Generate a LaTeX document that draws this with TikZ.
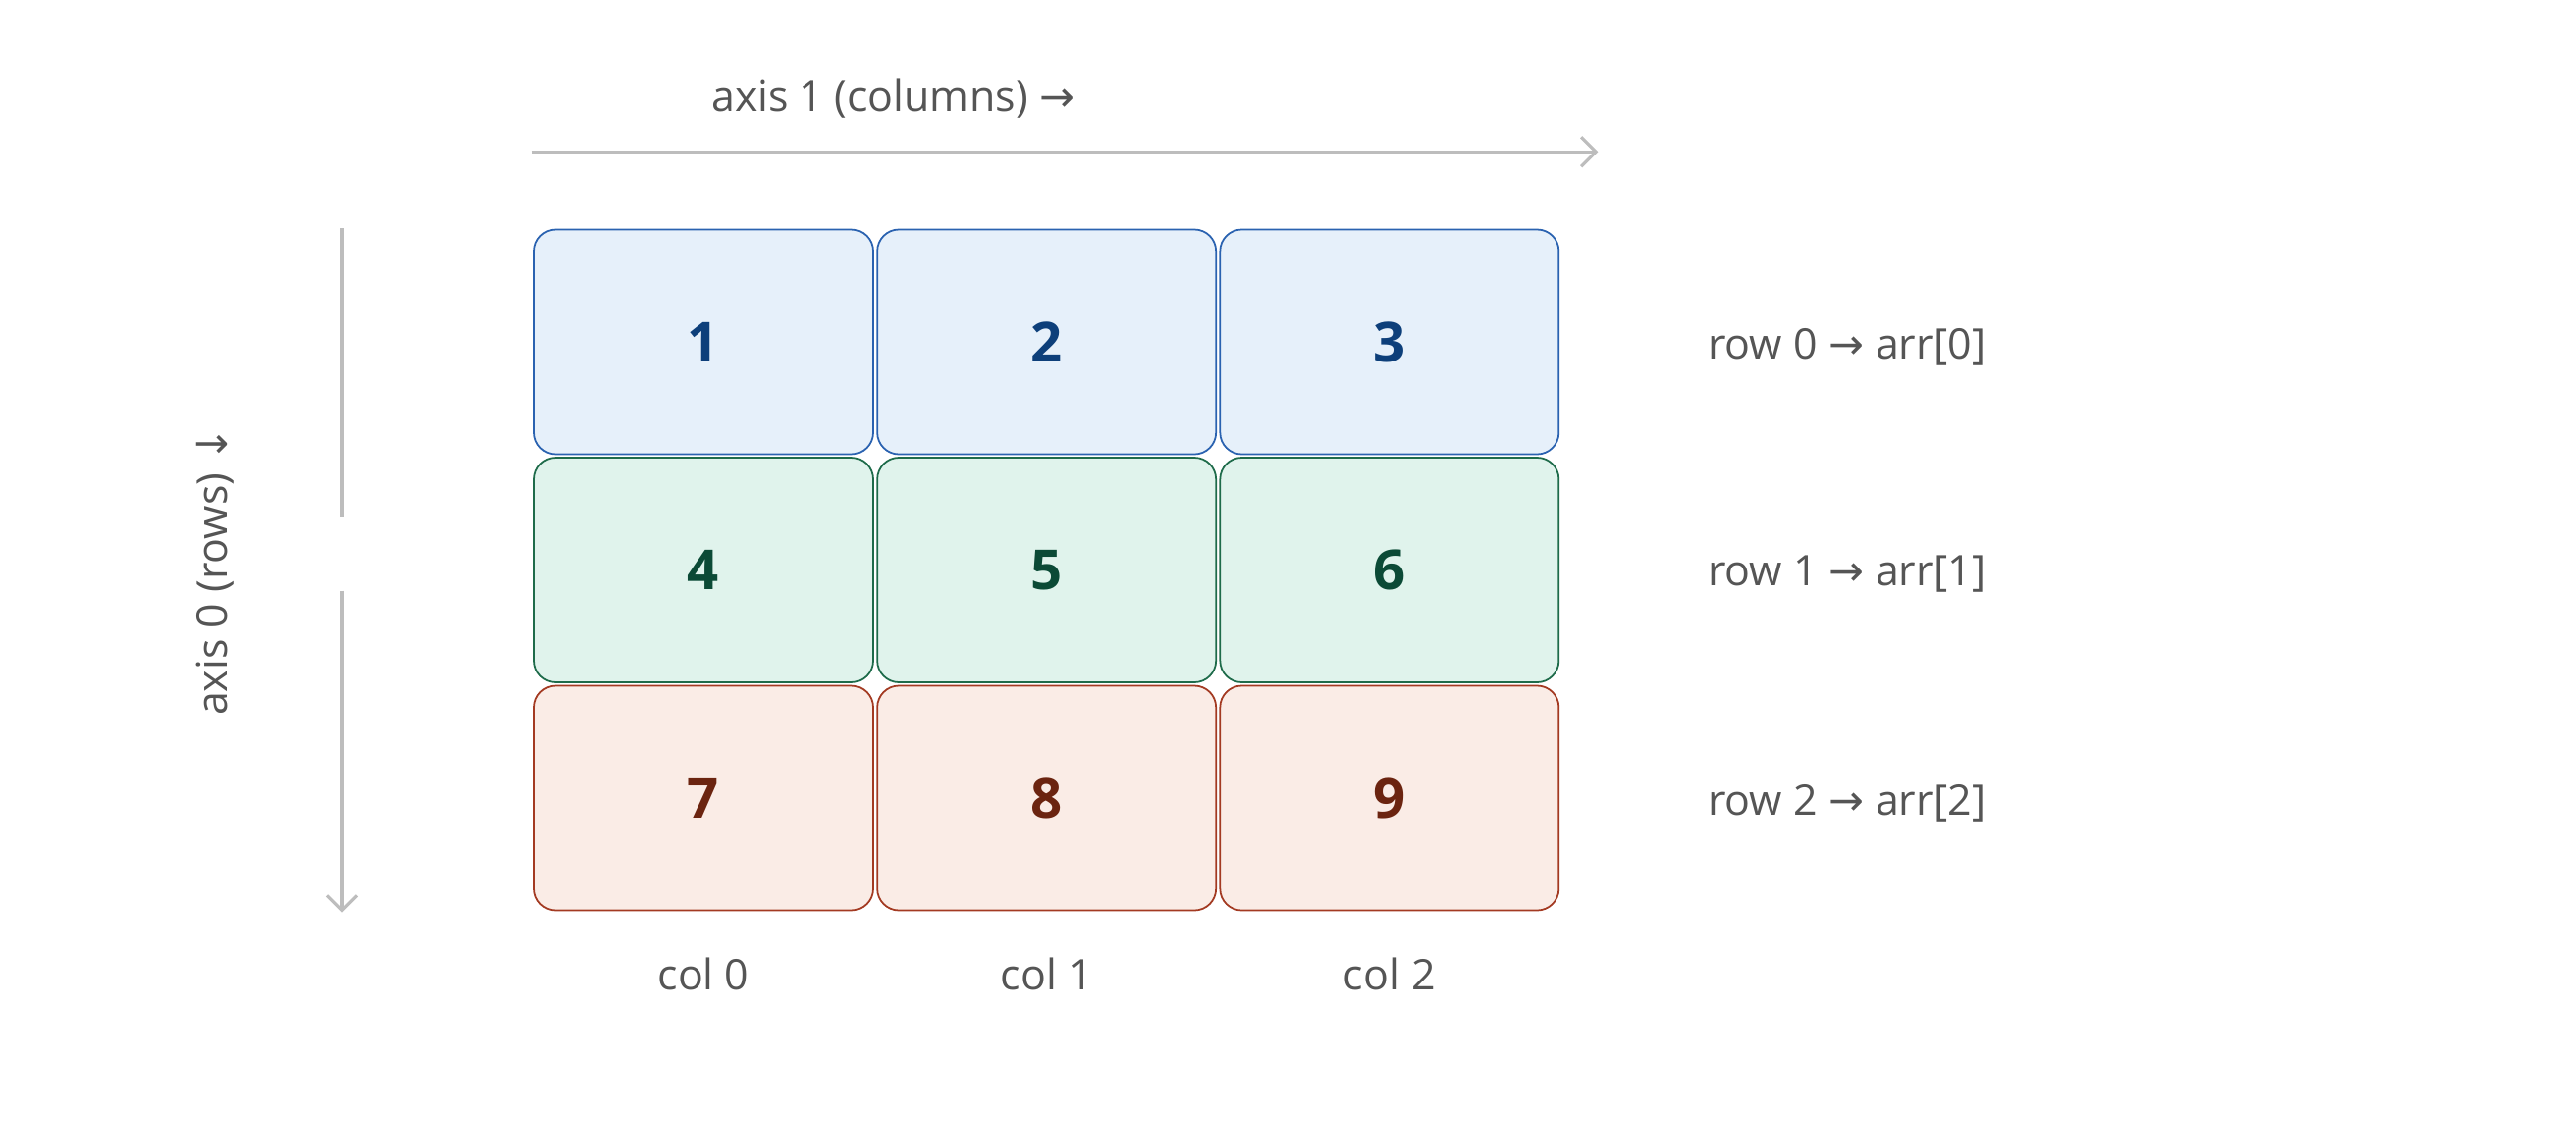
\documentclass[tikz,border=0pt]{standalone}
\usepackage{fontspec}
\setmainfont{Open Sans}
\newfontfamily\arrfont{DejaVu Sans}
\usetikzlibrary{arrows.meta, positioning}

\definecolor{bluefill}{HTML}{E6F0FA}
\definecolor{bluedraw}{HTML}{2A62B0}
\definecolor{bluetext}{HTML}{0D3F7A}
\definecolor{greenfill}{HTML}{E0F3EC}
\definecolor{greendraw}{HTML}{1E6B4A}
\definecolor{greentext}{HTML}{0B4A36}
\definecolor{redfill}{HTML}{FAECE6}
\definecolor{reddraw}{HTML}{A33A22}
\definecolor{redtext}{HTML}{6B2410}
\definecolor{labeltext}{HTML}{555555}
\definecolor{axisgray}{HTML}{BDBDBD}

\tikzset{
  cell/.style={draw, rounded corners=2.2mm, line width=0.5pt, minimum width=3.42cm, minimum height=2.27cm, font=\fontsize{16}{18}\selectfont\bfseries},
  row0/.style={cell, fill=bluefill, draw=bluedraw, text=bluetext},
  row1/.style={cell, fill=greenfill, draw=greendraw, text=greentext},
  row2/.style={cell, fill=redfill, draw=reddraw, text=redtext},
  lbl/.style={text=labeltext, font=\fontsize{12.2}{15}\selectfont},
  axis/.style={draw=axisgray, line width=0.9pt}
}

\begin{document}
\begin{tikzpicture}[x=1cm/60, y=-1cm/60]
\useasboundingbox (0,0) rectangle (1560,688);

% the 3x3 grid
\foreach \r in {0,1,2}{
  \foreach \c in {0,1,2}{
    \pgfmathtruncatemacro{\v}{3*\r+\c+1}
    \node[row\r] (c\v) at (426+207.7*\c, 207+138.3*\r) {\v};
  }
}

% row and column labels
\foreach \r/\y in {0/210,1/348,2/487}
  \node[lbl, anchor=west] (rl\r) at (1027,\y) {row \r\ {\arrfont →} arr[\r]};
\foreach \c in {0,1,2}
  \node[lbl] (cl\c) at (426+207.7*\c, 590) {col \c};

% axis 1
\coordinate (a1s) at (322,92);
\coordinate (a1e) at (968,92);
\draw[axis, -{Straight Barb[length=1.5mm]}] (a1s) -- (a1e);
\node[lbl] (a1) at (541,60) {axis 1 (columns) {\arrfont →}};

% axis 0
\coordinate (a0s) at (207,138);
\coordinate (a0m) at (207,313);
\coordinate (a0n) at (207,358);
\coordinate (a0e) at (207,553);
\draw[axis] (a0s) -- (a0m);
\draw[axis, -{Straight Barb[length=1.5mm]}] (a0n) -- (a0e);
\node[lbl, rotate=90] (a0) at (130,346) {axis 0 (rows) {\arrfont ↓}};
\end{tikzpicture}
\end{document}
